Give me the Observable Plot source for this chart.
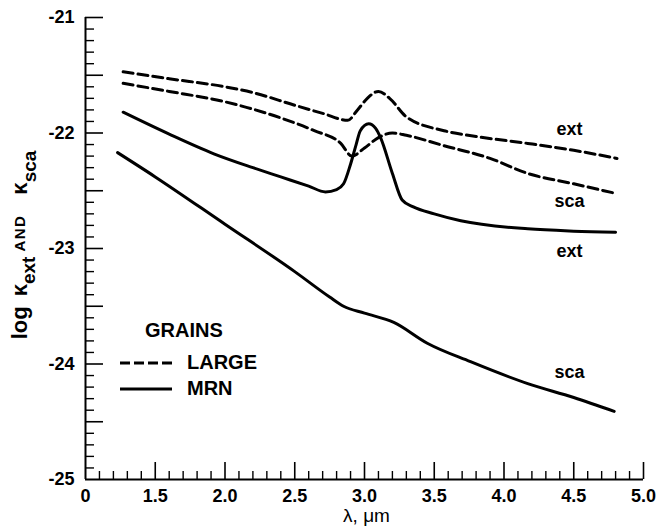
<!DOCTYPE html>
<html>
<head>
<meta charset="utf-8">
<script src="https://cdn.jsdelivr.net/npm/d3@7"></script>
<script src="https://cdn.jsdelivr.net/npm/@observablehq/plot@0.6"></script>
<style>
  body { margin: 0; background: #fff; }
  #chart svg { display: block; }
</style>
</head>
<body>
<div id="chart"></div>
<script>
// ---------- data ----------
// LARGE grains, extinction
const largeExtWavelength = [1.27, 1.6, 2.0, 2.2, 2.5, 2.7, 2.88, 2.95, 3.02, 3.10, 3.18, 3.30, 3.57, 3.8, 4.17, 4.5, 4.81];
const largeExtLogK       = [-21.47, -21.53, -21.60, -21.65, -21.76, -21.83, -21.89, -21.80, -21.70, -21.64, -21.70, -21.86, -21.98, -22.03, -22.09, -22.15, -22.22];
// LARGE grains, scattering
const largeScaWavelength = [1.27, 1.6, 2.0, 2.16, 2.4, 2.64, 2.83, 2.91, 3.0, 3.1, 3.2, 3.3, 3.57, 3.9, 4.17, 4.5, 4.79];
const largeScaLogK       = [-21.57, -21.64, -21.73, -21.78, -21.87, -21.98, -22.09, -22.20, -22.13, -22.04, -22.00, -22.02, -22.11, -22.22, -22.35, -22.44, -22.52];
// MRN grains, extinction
const mrnExtWavelength = [1.27, 1.6, 1.92, 2.2, 2.4, 2.6, 2.72, 2.80, 2.85, 2.90, 2.94, 2.97, 3.03, 3.08, 3.115, 3.2, 3.27, 3.35, 3.5, 3.69, 4.17, 4.5, 4.80];
const mrnExtLogK       = [-21.82, -22.01, -22.18, -22.30, -22.38, -22.46, -22.51, -22.49, -22.44, -22.27, -22.10, -21.98, -21.92, -21.96, -22.04, -22.35, -22.58, -22.64, -22.70, -22.76, -22.83, -22.85, -22.86];
// MRN grains, scattering
const mrnScaWavelength = [1.23, 1.5, 2.0, 2.5, 2.75, 2.85, 3.0, 3.21, 3.45, 3.76, 4.17, 4.5, 4.79];
const mrnScaLogK       = [-22.17, -22.38, -22.79, -23.20, -23.42, -23.50, -23.56, -23.64, -23.82, -23.98, -24.17, -24.29, -24.41];

// curve labels
const curveLabelText = ["ext", "sca", "ext", "sca"];
const curveLabelX    = [4.47, 4.47, 4.47, 4.47];
const curveLabelY    = [-21.97, -22.59, -23.02, -24.07];

// tick labels
const xTickValues = [1.0, 1.5, 2.0, 2.5, 3.0, 3.5, 4.0, 4.5, 5.0];
const xTickLabels = ["0", "1.5", "2.0", "2.5", "3.0", "3.5", "4.0", "4.5", "5.0"];
const yTickValues = [-25, -24, -23, -22, -21];
const yTickLabels = ["-25", "-24", "-23", "-22", "-21"];

// legend
const legendTitle = "GRAINS";
const legendNames = ["LARGE", "MRN"];

// ---------- build tables ----------
function toRows(kind, xs, ys) { return xs.map((x, i) => ({kind, x, y: ys[i]})); }
const largeRows = [...toRows("ext", largeExtWavelength, largeExtLogK), ...toRows("sca", largeScaWavelength, largeScaLogK)];
const mrnRows = [...toRows("ext", mrnExtWavelength, mrnExtLogK), ...toRows("sca", mrnScaWavelength, mrnScaLogK)];
const curveLabels = curveLabelText.map((t, i) => ({text: t, x: curveLabelX[i], y: curveLabelY[i]}));
const xLabelMap = new Map(xTickValues.map((v, i) => [v, xTickLabels[i]]));
const yLabelMap = new Map(yTickValues.map((v, i) => [v, yTickLabels[i]]));

// tick positions (every 0.1, long every 0.5)
const xTenths = d3.range(11, 51);
const xMajor = xTenths.filter(t => t % 5 === 0).map(t => t / 10);
const xMinor = xTenths.filter(t => t % 5 !== 0).map(t => t / 10);
const yTenths = d3.range(-249, -209);
const yMajor = yTenths.filter(t => t % 5 === 0).map(t => t / 10);
const yMinor = yTenths.filter(t => t % 5 !== 0).map(t => t / 10);

const W = 656, H = 530, mL = 85, mR = 13, mT = 17, mB = 51;
const frameW = W - mL - mR, frameH = H - mT - mB;
const FONT = "'Liberation Sans', Arial, Helvetica, sans-serif";

const svg = Plot.plot({
  width: W, height: H,
  marginLeft: mL, marginRight: mR, marginTop: mT, marginBottom: mB,
  style: {fontFamily: FONT, background: "white", color: "black", overflow: "visible"},
  x: {domain: [1, 5]},
  y: {domain: [-25, -21]},
  marks: [
    // axis spines
    Plot.ruleX([1], {stroke: "black", strokeWidth: 2}),
    Plot.ruleY([-25], {stroke: "black", strokeWidth: 2}),
    // inward ticks
    Plot.tickX(xMajor, {x: d => d, insetTop: frameH - 17, stroke: "black", strokeWidth: 1.6}),
    Plot.tickX(xMinor, {x: d => d, insetTop: frameH - 8, stroke: "black", strokeWidth: 1.4}),
    Plot.tickY(yMajor, {y: d => d, insetRight: frameW - 18, stroke: "black", strokeWidth: 1.6}),
    Plot.tickY(yMinor, {y: d => d, insetRight: frameW - 9, stroke: "black", strokeWidth: 1.4}),
    // tick labels
    Plot.axisX(xTickValues, {tickSize: 0, tickPadding: 10, tickFormat: d => xLabelMap.get(d), fontSize: 18, fontWeight: "bold", label: null}),
    Plot.axisY(yTickValues, {tickSize: 0, tickPadding: 11, tickFormat: d => yLabelMap.get(d), fontSize: 18, fontWeight: "bold", label: null}),
    Plot.text(["λ, μm"], {frameAnchor: "bottom", dx: 2, dy: 42, text: d => d, fontSize: 19}),
    // curves
    Plot.line(largeRows, {x: "x", y: "y", z: "kind", stroke: "black", strokeWidth: 3, strokeDasharray: "10,5", curve: "monotone-x"}),
    Plot.line(mrnRows, {x: "x", y: "y", z: "kind", stroke: "black", strokeWidth: 3, curve: "monotone-x"}),
    // curve labels
    Plot.text(curveLabels, {x: "x", y: "y", text: "text", fontSize: 18, fontWeight: "bold"})
  ]
});

const s = d3.select(svg);

// y-axis label with subscripts
const yl = s.append("text")
  .attr("transform", "translate(27,245) rotate(-90)")
  .attr("text-anchor", "middle")
  .attr("font-weight", "bold")
  .attr("font-family", FONT)
  .attr("fill", "black");
yl.append("tspan").attr("font-size", 22).text("log");
yl.append("tspan").attr("font-size", 22).attr("dx", 10).text("κ");
yl.append("tspan").attr("font-size", 19).attr("dy", 8).text("ext");
yl.append("tspan").attr("font-size", 15).attr("dx", 5).attr("dy", -10).attr("letter-spacing", 1.5).text("AND");
yl.append("tspan").attr("font-size", 22).attr("dx", 20).attr("dy", 2).text("κ");
yl.append("tspan").attr("font-size", 19).attr("dy", 9).text("sca");

// legend
const lg = s.append("g")
  .attr("font-family", FONT).attr("font-weight", "bold").attr("font-size", 20)
  .attr("fill", "black").attr("text-anchor", "start");
lg.append("text").attr("x", 145).attr("y", 337).text(legendTitle);
lg.append("line").attr("x1", 120).attr("x2", 172).attr("y1", 363).attr("y2", 363)
  .attr("stroke", "black").attr("stroke-width", 3).attr("stroke-dasharray", "10,4");
lg.append("text").attr("x", 187).attr("y", 369).text(legendNames[0]);
lg.append("line").attr("x1", 120).attr("x2", 172).attr("y1", 389).attr("y2", 389)
  .attr("stroke", "black").attr("stroke-width", 3);
lg.append("text").attr("x", 187).attr("y", 395).text(legendNames[1]);

document.getElementById("chart").appendChild(svg);
</script>
</body>
</html>
